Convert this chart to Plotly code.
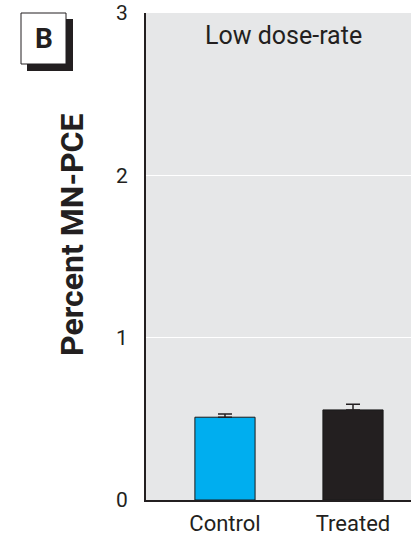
import plotly.graph_objects as go

categories = ["Control", "Treated"]
values = [0.51, 0.555]
errors_up = [0.02, 0.035]
errors_down = [0, 0]
colors = ["#00AEEF", "#231F20"]
y_ticks = [0, 1, 2, 3]

FONT = "Roboto, sans-serif"

fig = go.Figure()
fig.add_trace(go.Bar(
    x=categories, y=values,
    marker=dict(color=colors, line=dict(color="#1a1a1a", width=1)),
    width=0.47,
    error_y=dict(type="data", array=errors_up, arrayminus=errors_down, symmetric=False,
                 visible=True, color="#231F20", thickness=1.5, width=7),
))

W = 411 - 146
H = 539 - 13 - 39

fig.update_layout(
    width=411, height=539,
    margin=dict(l=146, r=0, t=13, b=39),
    paper_bgcolor="white",
    plot_bgcolor="#E6E7E8",
    showlegend=False,
    font=dict(family=FONT, color="#231F20"),
    xaxis=dict(
        range=[-0.617, 1.453], automargin=False,
        showline=True, linecolor="#231F20", linewidth=2,
        showgrid=False, ticks="", tickfont=dict(size=22, family=FONT),
        ticklabelstandoff=3,
    ),
    yaxis=dict(
        range=[0, 3], tickvals=y_ticks, automargin=False,
        showline=True, linecolor="#231F20", linewidth=2,
        showgrid=True, gridcolor="white", gridwidth=1,
        zeroline=False, ticks="", tickfont=dict(size=21, family=FONT),
        ticklabelstandoff=12,
    ),
    annotations=[
        dict(text="<b>Percent MN-PCE</b>", xref="paper", yref="paper",
             x=(72 - 146) / W, y=(500 - 235) / H, textangle=-90,
             xanchor="center", yanchor="middle", showarrow=False,
             font=dict(size=32, family=FONT, color="#231F20")),
        dict(text="Low dose-rate", xref="paper", yref="paper", x=(203 - 146) / W, y=(500 - 36) / H,
             xanchor="left", yanchor="middle", showarrow=False,
             font=dict(size=25, family=FONT, color="#231F20")),
        dict(text="<b>B</b>", xref="paper", yref="paper",
             x=(43.5 - 146) / W, y=(500 - 38.5) / H,
             xanchor="center", yanchor="middle", showarrow=False,
             font=dict(size=28, family=FONT, color="#231F20")),
    ],
    shapes=[
        dict(type="rect", xref="paper", yref="paper",
             x0=(27 - 146) / W, x1=(73 - 146) / W,
             y0=(500 - 71) / H, y1=(500 - 19) / H,
             fillcolor="#231F20", line=dict(width=0), layer="below"),
        dict(type="rect", xref="paper", yref="paper",
             x0=(21 - 146) / W, x1=(66 - 146) / W,
             y0=(500 - 64) / H, y1=(500 - 13) / H,
             fillcolor="white", line=dict(color="#231F20", width=1), layer="below"),
    ],
)

fig.write_html("out.html")
